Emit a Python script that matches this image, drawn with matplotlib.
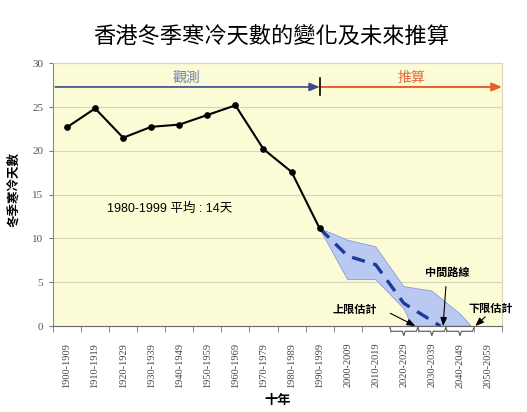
import matplotlib
matplotlib.use('Agg')
import matplotlib.pyplot as plt
from matplotlib.path import Path
from matplotlib.patches import PathPatch

plt.rcParams['font.family'] = ['Liberation Sans', 'Noto Sans CJK TC', 'DejaVu Sans']

# Données
decades = ['1900-1909', '1910-1919', '1920-1929', '1930-1939', '1940-1949',
           '1950-1959', '1960-1969', '1970-1979', '1980-1989', '1990-1999',
           '2000-2009', '2010-2019', '2020-2029', '2030-2039', '2040-2049',
           '2050-2059']
observed = [22.7, 24.85, 21.5, 22.75, 23.0, 24.1, 25.2, 20.2, 17.6, 11.15]

# projection (positions en index de décennie)
mid_x = [9, 10, 11, 12, 13, 13.3]
mid_y = [11.15, 8.0, 7.0, 2.6, 0.6, 0.0]
upper_x = [9, 10, 11, 12, 13, 14, 14.4]
upper_y = [11.15, 9.8, 9.05, 4.5, 4.0, 1.4, 0.0]
lower_x = [9, 10, 11, 12, 12.3]
lower_y = [11.15, 5.3, 5.3, 2.0, 0.0]

serif = ['Liberation Serif', 'DejaVu Serif']
cjk = ['Noto Sans CJK TC', 'DejaVu Sans']

fig = plt.figure(figsize=(5.27, 4.12), dpi=100)
ax = fig.add_axes([0.1006, 0.2087, 0.852, 0.6376])
ax.set_facecolor('#fbfbd6')

ax.set_xlim(-0.5, 15.5)
ax.set_ylim(0, 30)
ax.set_yticks(range(0, 31, 5))
for yv in range(5, 31, 5):
    ax.axhline(yv, color='#d6d6bc', lw=0.8, zorder=0)

# bande d'incertitude
bx = upper_x + lower_x[::-1]
by = upper_y + lower_y[::-1]
ax.fill(bx, by, facecolor='#b9c9f2', edgecolor='#8d9bd4', lw=0.6, zorder=2)
ax.plot(mid_x, mid_y, color='#1d3a9e', lw=2.4, dashes=(4, 2.6), zorder=3)

# série observée
ax.plot(range(len(observed)), observed, color='black', lw=1.5, marker='o',
        ms=3.8, zorder=4)

# flèches observation / projection
ax.annotate('', xy=(9.0, 27.3), xytext=(-0.42, 27.3),
            arrowprops=dict(arrowstyle='-|>,head_length=0.6,head_width=0.25',
                            color='#3a4a8c', lw=1.2, shrinkA=0, shrinkB=0))
ax.annotate('', xy=(15.5, 27.3), xytext=(9.0, 27.3), annotation_clip=False,
            arrowprops=dict(arrowstyle='-|>,head_length=0.6,head_width=0.25',
                            color='#e4602a', lw=1.4, shrinkA=0, shrinkB=0))
ax.plot([9.0, 9.0], [26.4, 28.3], color='black', lw=1.2, zorder=5)
ax.text(4.27, 28.3, '觀測', family=cjk, fontsize=10, color='#7482ac',
        ha='center', va='center')
ax.text(12.29, 28.3, '推算', family=cjk, fontsize=10, color='#e4683c',
        ha='center', va='center')

ax.text(1.43, 13.4, '1980-1999 平均 : 14天', fontsize=9, ha='left',
        va='center')

# annotations
arrow = dict(arrowstyle='-|>,head_length=0.5,head_width=0.2', color='black',
             lw=0.8, shrinkA=0, shrinkB=0)
ax.text(10.27, 1.85, '上限估計', family=cjk, fontsize=8, weight='bold',
        ha='center', va='center')
ax.annotate('', xy=(12.41, 0), xytext=(11.52, 1.45), arrowprops=arrow,
            annotation_clip=False)
ax.text(13.54, 6.1, '中間路線', family=cjk, fontsize=8, weight='bold',
        ha='center', va='center')
ax.annotate('', xy=(13.4, 0), xytext=(13.5, 4.5), arrowprops=arrow,
            annotation_clip=False)
ax.text(15.08, 2.0, '下限估計', family=cjk, fontsize=8, weight='bold',
        ha='center', va='center', clip_on=False)
ax.annotate('', xy=(14.55, 0), xytext=(14.9, 1.06), arrowprops=arrow,
            annotation_clip=False)

# accolades sous l'axe
tr = ax.get_xaxis_transform()
for a in (11.5, 12.5, 13.5):
    b = a + 1
    m = (a + b) / 2
    verts = [(a, -0.005), (a + 0.05, -0.02), (m - 0.05, -0.02), (m, -0.037),
             (m + 0.05, -0.02), (b - 0.05, -0.02), (b, -0.005)]
    path = Path(verts, [Path.MOVETO] + [Path.LINETO] * 6)
    ax.add_patch(PathPatch(path, transform=tr, fill=False, color='#555555',
                           lw=0.8, clip_on=False))

# axes
ax.set_xticks(range(len(decades)))
ax.set_xticklabels(decades, rotation=90, family=serif, fontsize=7.5,
                   color='#444444')
ax.set_xticks([i - 0.5 for i in range(len(decades) + 1)], minor=True)
ax.tick_params(axis='x', which='major', length=0, pad=12)
ax.tick_params(axis='x', which='minor', length=4, direction='out',
               color='#777777')
ax.tick_params(axis='y', length=3, color='#777777', labelcolor='#555555',
               labelsize=8, pad=4)
for lab in ax.get_yticklabels():
    lab.set_family(serif)

for s in ('top', 'right'):
    ax.spines[s].set_color('#d6d6bc')
ax.spines['left'].set_color('#888888')
ax.spines['bottom'].set_color('#666666')

ax.set_ylabel('冬季寒冷天數', family=cjk, fontsize=9, weight='bold')
ax.yaxis.set_label_coords(-0.073, 0.52)
ax.set_xlabel('十年', family=cjk, fontsize=9.5, weight='bold', va='center')
ax.xaxis.set_label_coords(0.5, -0.28)

fig.text(0.515, 0.911, '香港冬季寒冷天數的變化及未來推算', family=cjk,
         fontsize=16, weight='medium', ha='center', va='center')

fig.savefig('out.png', dpi=100)
